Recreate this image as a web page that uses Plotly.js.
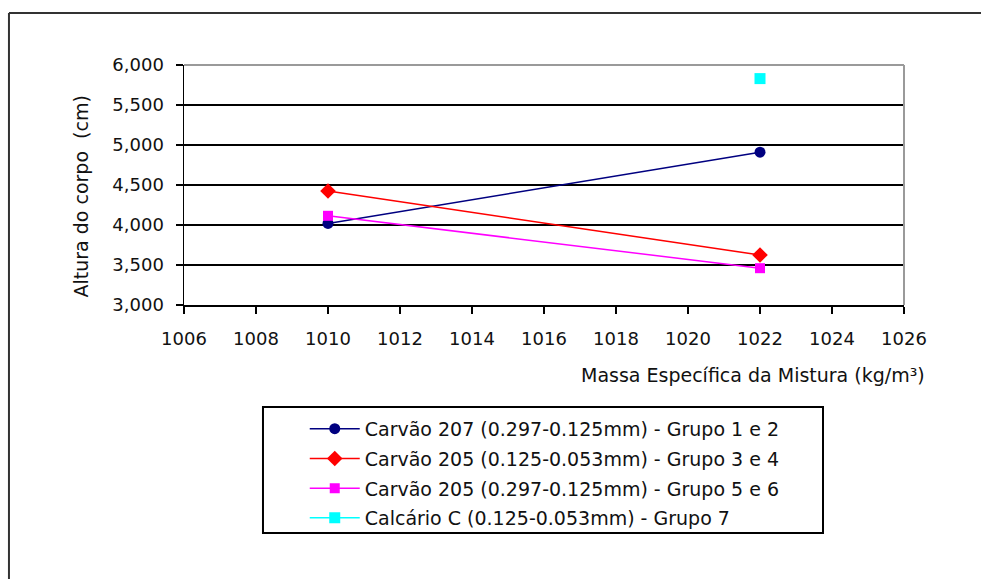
<!DOCTYPE html>
<html>
<head>
<meta charset="utf-8">
<script src="https://cdn.plot.ly/plotly-3.0.1.min.js"></script>
<style>
  html, body { margin: 0; padding: 0; background: #fff; }
  #chart { width: 981px; height: 579px; }
</style>
</head>
<body>
<div id="chart"></div>
<script>
// ---- data ----
var massaX = [1010, 1022];
var carvao207_g12 = [4020, 4910];
var carvao205_g34 = [4425, 3625];
var carvao205_g56 = [4115, 3460];
var calcarioX = [1022];
var calcario_g7 = [5830];

var seriesNames = [
  'Carvão 207 (0.297-0.125mm) - Grupo 1 e 2',
  'Carvão 205 (0.125-0.053mm) - Grupo 3 e 4',
  'Carvão 205 (0.297-0.125mm) - Grupo 5 e 6',
  'Calcário C (0.125-0.053mm) - Grupo 7'
];
var xTicks = [1006, 1008, 1010, 1012, 1014, 1016, 1018, 1020, 1022, 1024, 1026];
var yTicks = [3000, 3500, 4000, 4500, 5000, 5500, 6000];
var xTitle = 'Massa Específica da Mistura (kg/m³)';
var yTitle = 'Altura do corpo  (cm)';

var FONT = 'DejaVu Sans, Arial, sans-serif';

var traces = [
  {x: massaX, y: carvao207_g12, name: seriesNames[0], mode: 'lines+markers', legendgroup: 'a',
   line: {color: '#000080', width: 1.5}, marker: {symbol: 'circle', size: 11, color: '#000080'}},
  {x: massaX, y: carvao205_g34, name: seriesNames[1], mode: 'lines+markers', legendgroup: 'b',
   line: {color: '#ff0000', width: 1.5}, marker: {symbol: 'diamond', size: 12, color: '#ff0000'}},
  {x: massaX, y: carvao205_g56, name: seriesNames[2], mode: 'lines+markers', legendgroup: 'c',
   line: {color: '#ff00ff', width: 1.5}, marker: {symbol: 'square', size: 10, color: '#ff00ff'}},
  {x: calcarioX, y: calcario_g7, name: seriesNames[3], mode: 'lines+markers', legendgroup: 'd',
   line: {color: '#00ffff', width: 1.5}, marker: {symbol: 'square', size: 11, color: '#00ffff'}}
];

var layout = {
  width: 981, height: 579,
  paper_bgcolor: '#ffffff', plot_bgcolor: '#ffffff',
  margin: {l: 184, r: 77, t: 65, b: 274, autoexpand: false},
  font: {family: FONT, color: '#111', size: 18},
  showlegend: true,
  xaxis: {
    range: [1006, 1026], tickvals: xTicks, ticktext: xTicks.map(String),
    showgrid: false, zeroline: false,
    showline: true, linecolor: '#000', linewidth: 1.5,
    ticks: 'outside', ticklen: 7, tickwidth: 1.5, tickcolor: '#000',
    tickfont: {family: FONT, size: 18, color: '#111'},
    ticklabelstandoff: 10
  },
  yaxis: {
    range: [3000, 6000], tickvals: yTicks, tickformat: ',',
    showgrid: true, gridcolor: '#000', gridwidth: 1.5, zeroline: false,
    showline: true, linecolor: '#000', linewidth: 1.5,
    ticks: 'outside', ticklen: 7, tickwidth: 1.5, tickcolor: '#000',
    tickfont: {family: FONT, size: 18, color: '#111'},
    ticklabelstandoff: 8
  },
  legend: {
    x: 0.1097 + 0.058, y: -0.425 - 0.012, xanchor: 'left', yanchor: 'top',
    bgcolor: 'rgba(0,0,0,0)', borderwidth: 0,
    font: {family: FONT, size: 19, color: '#111'},
    traceorder: 'grouped', tracegroupgap: 2, itemwidth: 50
  },
  annotations: [
    {text: yTitle, xref: 'paper', yref: 'paper', x: -0.1444, y: 0.452,
     xanchor: 'center', yanchor: 'middle', textangle: -90, showarrow: false,
     font: {family: FONT, size: 19, color: '#111'}},
    {text: xTitle, xref: 'paper', yref: 'paper', x: 0.790, y: -0.2917,
     xanchor: 'center', yanchor: 'middle', showarrow: false,
     font: {family: FONT, size: 19, color: '#111'}}
  ],
  shapes: [
    // grey plot-area border on top and right
    {type: 'line', xref: 'paper', yref: 'paper', x0: 0, x1: 1, y0: 1, y1: 1,
     line: {color: '#9a9a9a', width: 2}, layer: 'above'},
    {type: 'line', xref: 'paper', yref: 'paper', x0: 1, x1: 1, y0: 0, y1: 1,
     line: {color: '#9a9a9a', width: 2}, layer: 'above'},
    // legend box
    {type: 'rect', xref: 'paper', yref: 'paper', x0: 0.1097, x1: 0.8875, y0: -0.95, y1: -0.425,
     line: {color: '#000', width: 2}, fillcolor: 'rgba(0,0,0,0)', layer: 'above'},
    // outer chart frame (left and top edges)
    {type: 'line', xref: 'paper', yref: 'paper', x0: -0.2431, x1: -0.2431, y0: -1.3, y1: 1.2167,
     line: {color: '#333', width: 2}, layer: 'above'},
    {type: 'line', xref: 'paper', yref: 'paper', x0: -0.2431, x1: 1.2, y0: 1.2167, y1: 1.2167,
     line: {color: '#333', width: 2}, layer: 'above'}
  ]
};

Plotly.newPlot('chart', traces, layout, {displayModeBar: false, staticPlot: true});
</script>
</body>
</html>
